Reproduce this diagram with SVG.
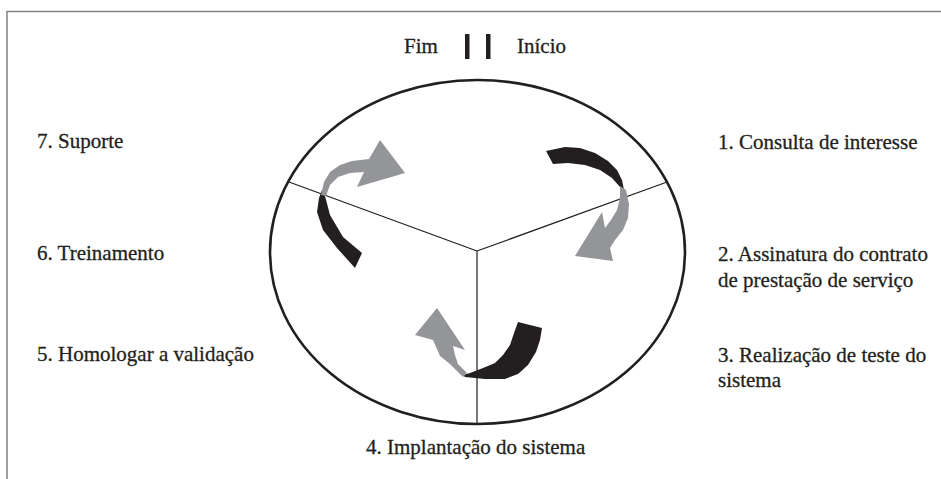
<svg xmlns="http://www.w3.org/2000/svg" width="941" height="479" viewBox="0 0 941 479">
<style>
text{font-family:"Liberation Serif","Times New Roman",serif;font-size:21px;fill:#231f20;stroke:#231f20;stroke-width:0.3}
.blk{fill:#231f20}
.gry{fill:#939598}
.ln{stroke:#231f20;fill:none}
</style>
<rect width="941" height="479" fill="#fff"/>
<g id="frame"><path d="M941,11.5 H7 V479" fill="none" stroke="#808285" stroke-width="1.5"/></g>
<g id="cycle">
<ellipse cx="477.5" cy="252" rx="207.5" ry="172" class="ln" stroke-width="2.6"/>
</g>
<g id="connectors">
<path class="ln" stroke-width="1.2" d="M477,251 L289,182 M477,251 L667,182 M477,251 V424"/>
</g>
<g id="fim-inicio">
<rect x="465" y="34" width="4.5" height="25" class="blk"/>
<rect x="486" y="34" width="4.5" height="25" class="blk"/>
<text x="404" y="53">Fim</text>
<text x="517" y="53">Início</text>
</g>
<g id="arrow1">
<polygon class="blk" points="546,151 565,147 580,148 595,153 608,161 617,170 622,180 624,190 620,187 612,178 600,170 585,165 568,163 553,164"/>
<polygon class="gry" points="620,186 626,190 629,204 628,218 623,230 615,240 610,248 613,261 575,256 602,212 605,228 611,220 617,210 620,198"/>
</g>
<g id="arrow2">
<polygon class="blk" points="322,190 325,196 330,215 343,237 362,253 355,268 337,248 323,230 317,212 319,198"/>
<polygon class="gry" points="321,195 324,182 330,172 340,165 352,161 369,159 380,140 405,173 357,187 364,172 350,173 338,177 330,185 326,196"/>
</g>
<g id="arrow3">
<polygon class="blk" points="518,322 542,328 540,340 536,352 528,365 518,374 505,379 485,379 465,377 463,375 470,373 483,368 495,363 503,355 510,345 514,333"/>
<polygon class="gry" points="463,377 450,364 440,356 433,340 415,335 437,308 465,350 453,346 455,355 458,364 467,373"/>
</g>
<g id="step1"><text x="718" y="149">1. Consulta de interesse</text></g>
<g id="step2"><text x="718" y="261">2. Assinatura do contrato</text><text x="718" y="287">de prestação de serviço</text></g>
<g id="step3"><text x="718" y="362">3. Realização de teste do</text><text x="718" y="387">sistema</text></g>
<g id="step4"><text x="366" y="454">4. Implantação do sistema</text></g>
<g id="step5"><text x="37" y="361">5. Homologar a validação</text></g>
<g id="step6"><text x="37" y="260">6. Treinamento</text></g>
<g id="step7"><text x="37" y="148">7. Suporte</text></g>
</svg>
